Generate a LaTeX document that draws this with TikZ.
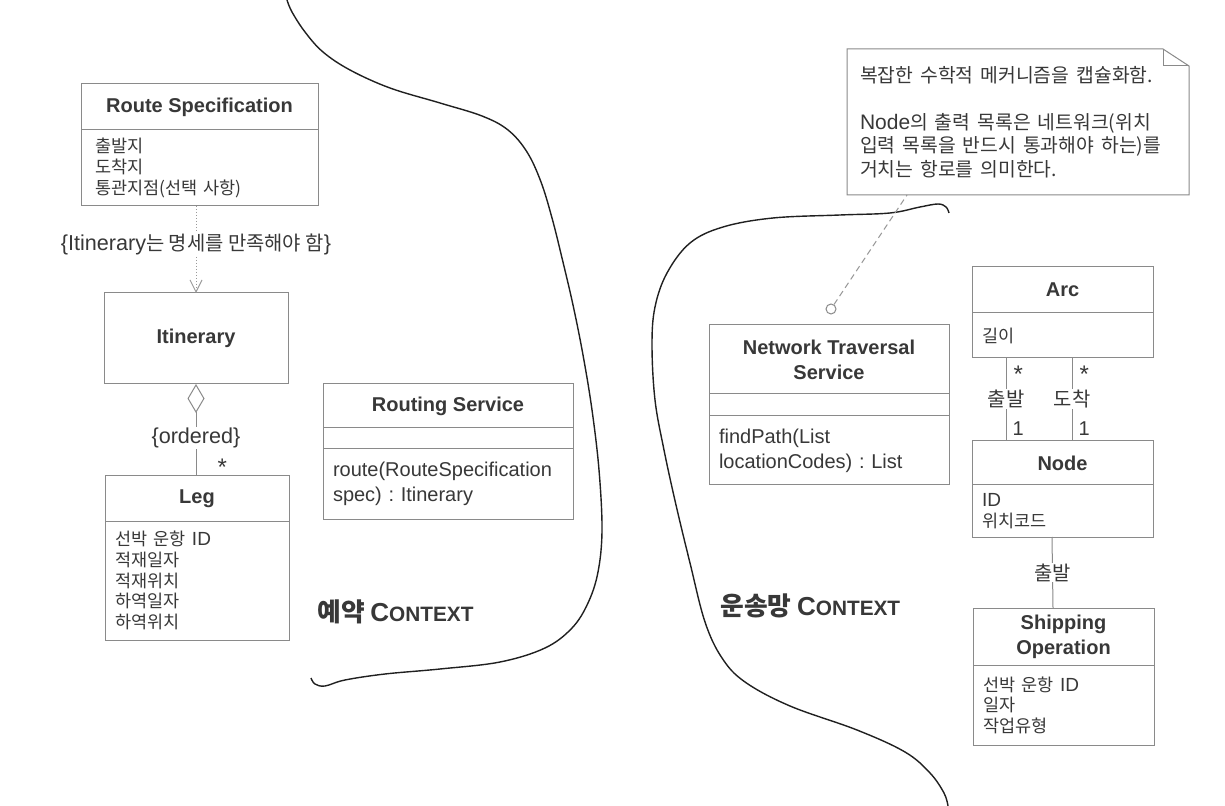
\documentclass[tikz,border=0pt]{standalone}
\usepackage{fontspec}
\setmainfont{Liberation Sans}
\newfontfamily\kr[Scale=0.92]{Noto Sans CJK KR}
\newcommand{\ko}[1]{{\kr #1}}
\usetikzlibrary{arrows.meta,positioning}
\frenchspacing
\definecolor{inkgray}{HTML}{383838}
\definecolor{boxgray}{HTML}{8A8A8A}
\definecolor{linkgray}{HTML}{9A9A9A}
\definecolor{curveink}{HTML}{202020}
\tikzset{
  compart/.style={draw=boxgray, line width=0.5pt, anchor=north west, outer sep=0pt, inner sep=0pt, text=inkgray},
  titlebox/.style={compart, align=center, font=\fontsize{10}{12.5}\selectfont\bfseries},
  attrbox/.style={compart, align=left, inner xsep=5pt, font=\fontsize{9.5}{10.3}\selectfont},
  methbox/.style={compart, align=left, inner xsep=5pt, font=\fontsize{10}{12.5}\selectfont},
  link/.style={draw=boxgray, line width=0.5pt},
  deplink/.style={draw=linkgray, line width=0.5pt, densely dotted, -{Straight Barb[length=6pt,width=6pt]}},
  notelink/.style={draw=linkgray, line width=0.5pt, dash pattern=on 3pt off 2pt},
  role/.style={fill=white, inner sep=0.5pt, text=inkgray, font=\fontsize{10.8}{12}\selectfont},
  mult/.style={inner sep=0pt, text=inkgray, font=\fontsize{10}{12}\selectfont},
  star/.style={mult, font=\fontsize{12}{12}\selectfont},
  boundary/.style={draw=curveink, line width=0.7pt},
  ctxlabel/.style={anchor=west, inner sep=0pt, text=inkgray, font=\bfseries},
}
\begin{document}
\begin{tikzpicture}[x=0.5pt,y=-0.5pt]
  \fill[white] (0,0) rectangle (1225,806);
  \useasboundingbox (0,0) rectangle (1225,806);

  % context boundaries
  \draw[boundary] plot[smooth, tension=0.6] coordinates {(287,0) (292,12) (305,32) (323,52) (350,70) (390,88) (440,103) (482,116) (508,130) (527,152) (541,182) (552,218) (562,258) (573,305) (583,355) (592,410) (599,470) (602,530) (598,572) (588,603) (572,628) (545,648) (500,662) (440,669) (385,674) (345,680) (325,686) (315,684) (311,678)};
  \draw[boundary] plot[smooth, tension=0.6] coordinates {(949,213) (946,207) (938,204) (920,207) (890,213) (840,215) (773,218) (723,227) (690,243) (667,273) (655,307) (652,345) (655,400) (664,450) (676,505) (690,563) (705,622) (722,658) (745,682) (790,706) (857,730) (905,752) (930,773) (944,793) (948,806)};

  % booking context
  \node[titlebox, minimum width=118.5pt, minimum height=23pt] (rshead) at (81,84) {Route Specification};
  \node[attrbox, inner xsep=7pt, text width=104.5pt, minimum height=38pt] (rsbody) at (rshead.south west) {\ko{출발지}\\\ko{도착지}\\\ko{통관지점(선택 사항)}};

  \node[titlebox, minimum width=92pt, minimum height=45.5pt] (itin) at (104,293) {Itinerary};

  \node[titlebox, minimum width=92pt, minimum height=22.5pt] (leghead) at (105,476) {Leg};
  \node[attrbox, text width=82pt, minimum height=59.5pt] (legbody) at (leghead.south west) {\ko{선박 운항} ID\\\ko{적재일자}\\\ko{적재위치}\\\ko{하역일자}\\\ko{하역위치}};

  \node[titlebox, minimum width=125pt, minimum height=22pt] (rtshead) at (323,384) {Routing Service};
  \node[compart, minimum width=125pt, minimum height=10.5pt] (rtsmid) at (rtshead.south west) {};
  \node[methbox, text width=115pt, minimum height=35pt] (rtsmeth) at (rtsmid.south west) {route(RouteSpecification\\spec) : Itinerary};

  \draw[deplink] (itin.north |- rsbody.south) -- node[role, pos=0.44] {\{Itinerary\ko{는 명세를 만족해야 함}\}} (itin.north);
  \draw[link, {Diamond[open,length=14.5pt,width=8.5pt]}-] (itin.south) -- node[role, pos=0.59] {\{ordered\}} node[star, pos=1, anchor=base west, xshift=10.5pt] {*} (itin.south |- leghead.north);

  \node[ctxlabel] (bookctx) at (317,612) {\ko{\fontsize{14}{16}\selectfont 예약} {\fontsize{13}{15}\selectfont C}{\fontsize{10.4}{12}\selectfont ONTEXT}};

  % network context
  \node[compart, draw=none, align=left, inner xsep=6.5pt, text width=158pt, minimum height=73pt, font=\fontsize{10.5}{11.7}\selectfont] (note) at (847,49) {\ko{복잡한 수학적 메커니즘을 캡슐화함.}\\[11.7pt]Node\ko{의 출력 목록은 네트워크(위치}\\\ko{입력 목록을 반드시 통과해야 하는)를}\\\ko{거치는 항로를 의미한다.}};
  \draw[link] (note.north west) -- ([xshift=-13pt]note.north east) -- ([yshift=-8.5pt]note.north east) -- (note.south east) -- (note.south west) -- cycle;
  \draw[link] ([xshift=-13pt]note.north east) -- ([xshift=-13pt,yshift=-8.5pt]note.north east) -- ([yshift=-8.5pt]note.north east);

  \node[titlebox, minimum width=120pt, minimum height=34.5pt] (ntshead) at (709,325) {Network Traversal\\Service};
  \node[compart, minimum width=120pt, minimum height=11pt] (ntsmid) at (ntshead.south west) {};
  \node[methbox, text width=110pt, minimum height=34.5pt] (ntsmeth) at (ntsmid.south west) {findPath(List\\locationCodes) : List};

  \node[circle, draw=boxgray, line width=0.5pt, fill=white, minimum size=5pt, inner sep=0pt] (pin) at (831,309) {};
  \coordinate (notefoot) at (907,195);
  \draw[notelink] (pin) -- (notefoot);

  \node[titlebox, minimum width=90.5pt, minimum height=23pt] (archead) at (972,267) {Arc};
  \node[attrbox, text width=80.5pt, minimum height=22.5pt] (arcbody) at (archead.south west) {\ko{길이}};

  \node[titlebox, minimum width=90.5pt, minimum height=22pt] (nodehead) at (972,441) {Node};
  \node[attrbox, text width=80.5pt, minimum height=26pt] (nodebody) at (nodehead.south west) {ID\\\ko{위치코드}};

  \node[titlebox, minimum width=90.5pt, minimum height=28.5pt] (shiphead) at (973,608) {Shipping\\Operation};
  \node[attrbox, text width=80.5pt, minimum height=40pt] (shipbody) at (shiphead.south west) {\ko{선박 운항} ID\\\ko{일자}\\\ko{작업유형}};

  \draw[link] ([xshift=17pt]arcbody.south west) -- node[role, pos=0.49] {\ko{출발}} node[star, pos=0.3, anchor=base west, xshift=3.5pt] {*} node[mult, pos=0.93, anchor=base west, xshift=3pt] {1} ([xshift=17pt]nodehead.north west);
  \draw[link] ([xshift=50pt]arcbody.south west) -- node[role, pos=0.49] {\ko{도착}} node[star, pos=0.3, anchor=base west, xshift=3.5pt] {*} node[mult, pos=0.93, anchor=base west, xshift=3pt] {1} ([xshift=50pt]nodehead.north west);
  \draw[link] ([xshift=40pt]nodebody.south west) -- node[role, pos=0.5] {\ko{출발}} ([xshift=40pt]shiphead.north west);

  \node[ctxlabel] (netctx) at (720,606) {\ko{\fontsize{14}{16}\selectfont 운송망} {\fontsize{13}{15}\selectfont C}{\fontsize{10.4}{12}\selectfont ONTEXT}};
\end{tikzpicture}
\end{document}
